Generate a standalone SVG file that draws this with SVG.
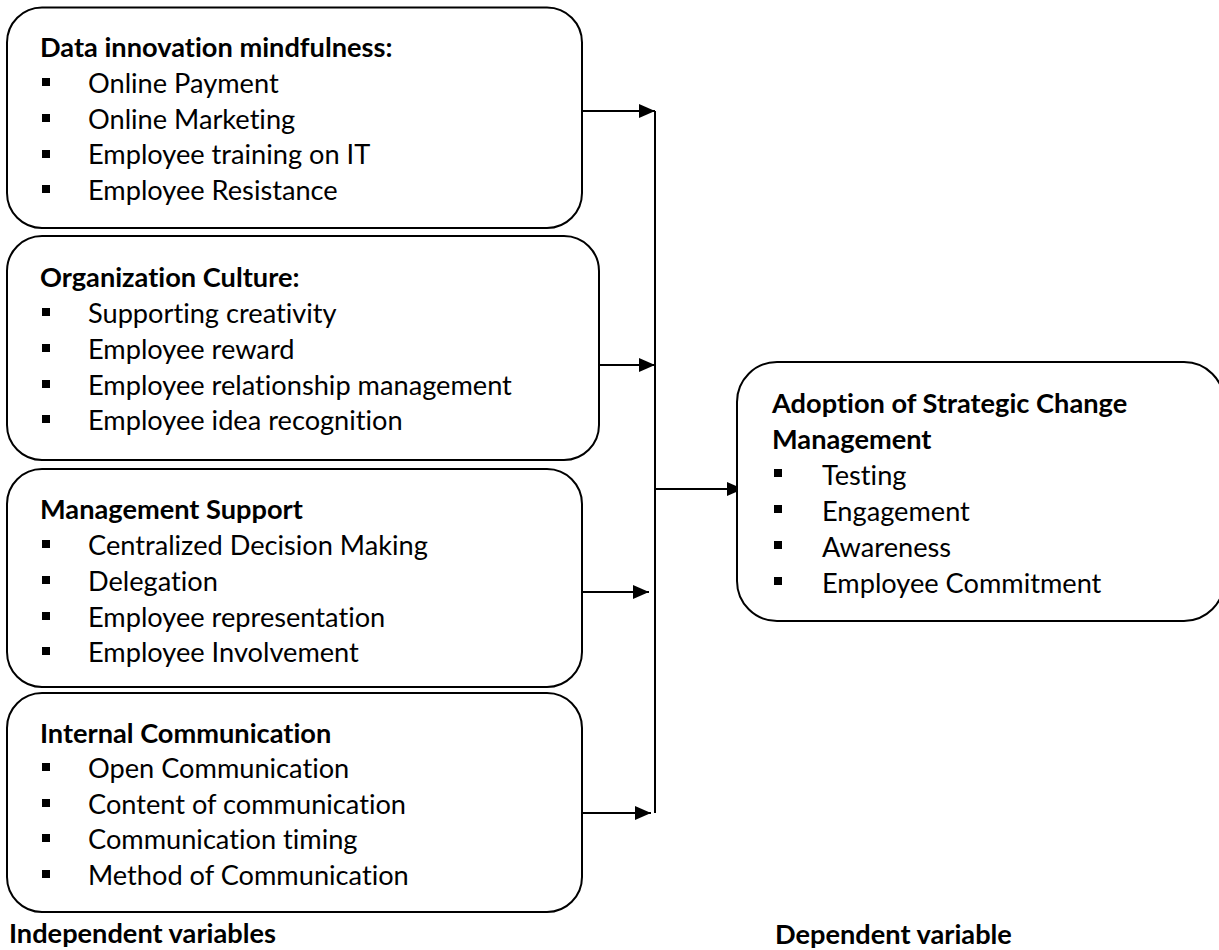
<svg xmlns="http://www.w3.org/2000/svg" width="1219" height="950" viewBox="0 0 1219 950">
  <style>
    .box { fill: #ffffff; stroke: #000000; stroke-width: 2; }
    .txt { font-family: Lato, "Open Sans", "Liberation Sans", sans-serif; font-size: 27.2px; fill: #000000; font-variant-ligatures: none; font-feature-settings: "liga" 0, "clig" 0; }
    .hd { font-weight: bold; }
    .bullet { fill: #000000; }
    .conn { fill: none; stroke: #000000; stroke-width: 2; }
  </style>
  <defs>
    <marker id="arrow" markerUnits="userSpaceOnUse" markerWidth="18" markerHeight="16" refX="16" refY="7" orient="auto">
      <path d="M0,0 L16,7 L0,14 Z" fill="#000000"/>
    </marker>
    <rect id="sq" x="-4" y="-4" width="8" height="8"/>
  </defs>

  <rect width="1219" height="950" fill="#ffffff"/>

  <!-- connectors -->
  <g id="connectors">
    <line class="conn" x1="655" y1="111" x2="655" y2="813"/>
    <line class="conn" x1="582" y1="111" x2="655" y2="111" marker-end="url(#arrow)"/>
    <line class="conn" x1="599" y1="365" x2="655" y2="365" marker-end="url(#arrow)"/>
    <line class="conn" x1="582" y1="592" x2="649" y2="592" marker-end="url(#arrow)"/>
    <line class="conn" x1="582" y1="813" x2="651" y2="813" marker-end="url(#arrow)"/>
    <line class="conn" x1="655" y1="489" x2="743" y2="489" marker-end="url(#arrow)"/>
  </g>

  <!-- independent variable: data innovation mindfulness -->
  <g id="node-data-innovation">
    <rect class="box" x="7" y="7.5" width="575" height="220.5" rx="35" ry="35"/>
    <text class="txt hd" x="40" y="57">Data innovation mindfulness:</text>
    <g class="bullet">
      <use href="#sq" x="46" y="82"/>
      <use href="#sq" x="46" y="118"/>
      <use href="#sq" x="46" y="154"/>
      <use href="#sq" x="46" y="189"/>
    </g>
    <text class="txt" x="88" y="93">Online Payment</text>
    <text class="txt" x="88" y="128.5">Online Marketing</text>
    <text class="txt" x="88" y="164">Employee training on IT</text>
    <text class="txt" x="88" y="200">Employee Resistance</text>
  </g>

  <!-- independent variable: organization culture -->
  <g id="node-org-culture">
    <rect class="box" x="7" y="236" width="592" height="224" rx="35" ry="35"/>
    <text class="txt hd" x="40" y="287">Organization Culture:</text>
    <g class="bullet">
      <use href="#sq" x="46" y="312"/>
      <use href="#sq" x="46" y="348"/>
      <use href="#sq" x="46" y="384"/>
      <use href="#sq" x="46" y="419"/>
    </g>
    <text class="txt" x="88" y="323">Supporting creativity</text>
    <text class="txt" x="88" y="359">Employee reward</text>
    <text class="txt" x="88" y="394.5">Employee relationship management</text>
    <text class="txt" x="88" y="430">Employee idea recognition</text>
  </g>

  <!-- independent variable: management support -->
  <g id="node-mgmt-support">
    <rect class="box" x="7" y="469" width="575" height="218" rx="35" ry="35"/>
    <text class="txt hd" x="40" y="519">Management Support</text>
    <g class="bullet">
      <use href="#sq" x="46" y="544"/>
      <use href="#sq" x="46" y="580"/>
      <use href="#sq" x="46" y="616"/>
      <use href="#sq" x="46" y="651"/>
    </g>
    <text class="txt" x="88" y="555">Centralized Decision Making</text>
    <text class="txt" x="88" y="591">Delegation</text>
    <text class="txt" x="88" y="626.5">Employee representation</text>
    <text class="txt" x="88" y="662">Employee Involvement</text>
  </g>

  <!-- independent variable: internal communication -->
  <g id="node-internal-comm">
    <rect class="box" x="7" y="693" width="575" height="219" rx="35" ry="35"/>
    <text class="txt hd" x="40" y="743">Internal Communication</text>
    <g class="bullet">
      <use href="#sq" x="46" y="767"/>
      <use href="#sq" x="46" y="803"/>
      <use href="#sq" x="46" y="838"/>
      <use href="#sq" x="46" y="874"/>
    </g>
    <text class="txt" x="88" y="778">Open Communication</text>
    <text class="txt" x="88" y="813.5">Content of communication</text>
    <text class="txt" x="88" y="849">Communication timing</text>
    <text class="txt" x="88" y="885">Method of Communication</text>
  </g>

  <!-- dependent variable -->
  <g id="node-adoption">
    <rect class="box" x="737" y="362" width="487" height="259" rx="40" ry="40"/>
    <text class="txt hd" x="772" y="413">Adoption of Strategic Change</text>
    <text class="txt hd" x="772" y="448.5">Management</text>
    <g class="bullet">
      <use href="#sq" x="778" y="473"/>
      <use href="#sq" x="778" y="509"/>
      <use href="#sq" x="778" y="545"/>
      <use href="#sq" x="778" y="581"/>
    </g>
    <text class="txt" x="822" y="485">Testing</text>
    <text class="txt" x="822" y="521">Engagement</text>
    <text class="txt" x="822" y="557">Awareness</text>
    <text class="txt" x="822" y="593">Employee Commitment</text>
  </g>

  <!-- column captions -->
  <g id="captions">
    <text class="txt hd" x="9" y="943">Independent variables</text>
    <text class="txt hd" x="775" y="944">Dependent variable</text>
  </g>
</svg>
